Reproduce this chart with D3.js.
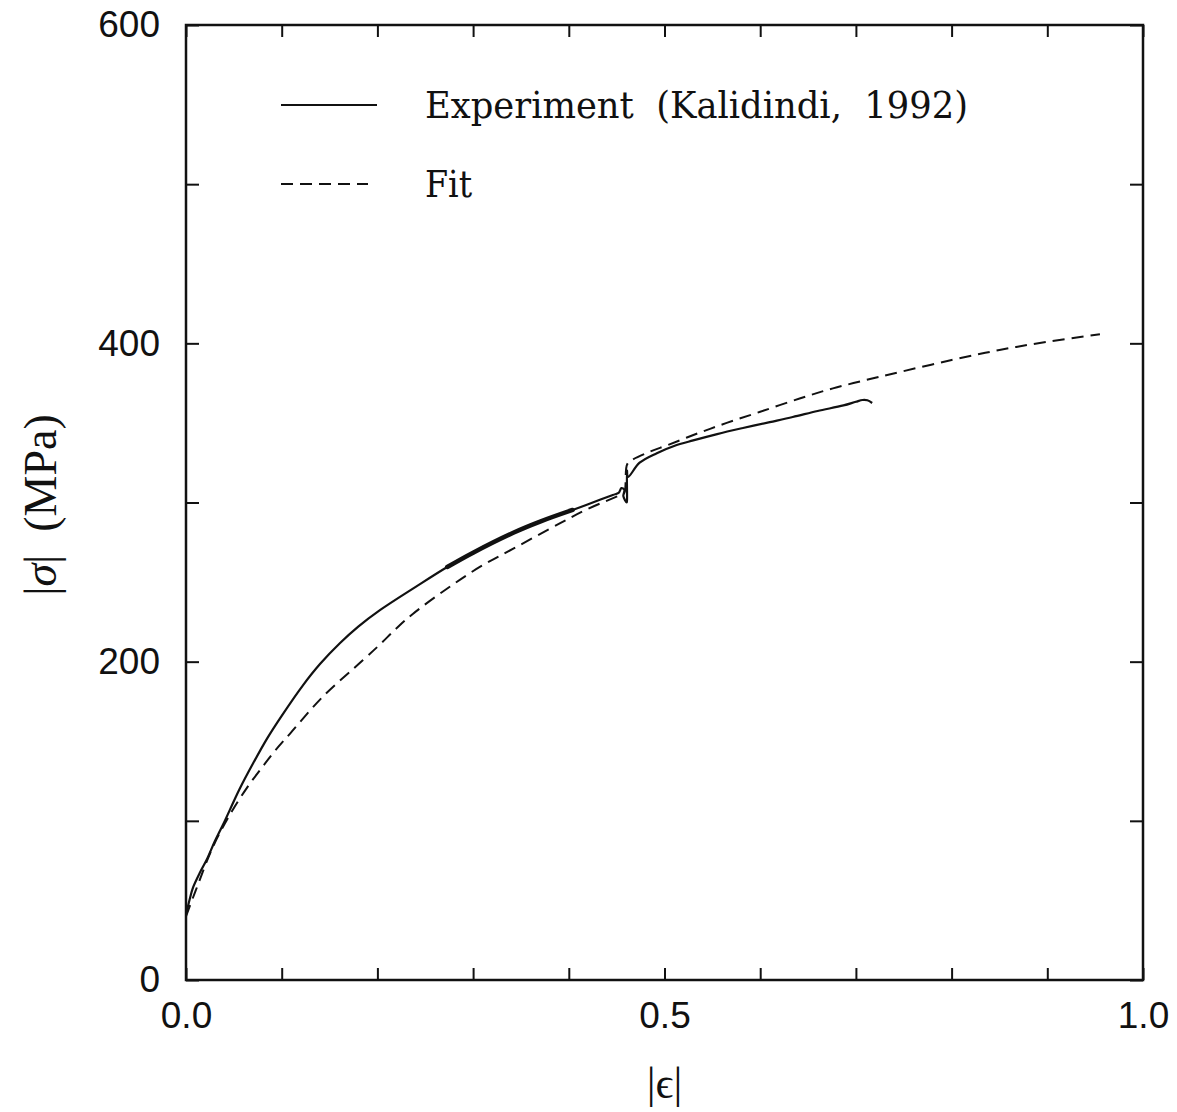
<!DOCTYPE html>
<html>
<head>
<meta charset="utf-8">
<script src="https://cdn.jsdelivr.net/npm/d3@7"></script>
<style>
  body { margin: 0; background: #fff; }
  svg { display: block; }
  .tick line { stroke: #111; stroke-width: 2; }
  .tick text { font-family: "Liberation Sans", Arial, sans-serif; font-size: 37px; fill: #111; }
</style>
</head>
<body>
<div id="vis"></div>
<script>
// stress-strain data: [|eps|, |sigma| (MPa)]
var experiment = [
  [0, 41], [0.004, 51], [0.0073, 58], [0.015, 68], [0.022, 76], [0.03, 87],
  [0.039, 98], [0.056, 120], [0.07, 136], [0.085, 152], [0.1, 166],
  [0.122, 185], [0.14, 198.5], [0.161, 211.7], [0.18, 222], [0.203, 232.5],
  [0.24, 247], [0.273, 259.5], [0.3, 268.5], [0.342, 281], [0.37, 288],
  [0.404, 295.3], [0.425, 300], [0.446, 304.7], [0.452, 306], [0.455, 309],
  [0.458, 308], [0.457, 304], [0.4605, 300], [0.4608, 301], [0.4608, 320],
  [0.4618, 316], [0.474, 325], [0.492, 331], [0.51, 335.5], [0.53, 339],
  [0.555, 343], [0.582, 346.8], [0.61, 350.5], [0.634, 353.7], [0.66, 357.5],
  [0.687, 361], [0.7, 363.3], [0.707, 364.4], [0.712, 364.2], [0.717, 362.5]
];

var fit = [
  [0, 40], [0.01, 56], [0.028, 83.5], [0.046, 104], [0.064, 121], [0.08, 134],
  [0.093, 144], [0.109, 155], [0.143, 178], [0.185, 201], [0.203, 211],
  [0.22, 221], [0.237, 230], [0.273, 246], [0.307, 259.5], [0.342, 271],
  [0.391, 287], [0.42, 296], [0.455, 305], [0.458, 306], [0.461, 324],
  [0.466, 326.7], [0.485, 332], [0.503, 336], [0.535, 343.5], [0.565, 350],
  [0.6, 357], [0.642, 365.5], [0.676, 371.7], [0.711, 377], [0.746, 382],
  [0.8, 389.5], [0.85, 395.8], [0.9, 401], [0.955, 405.7]
];

// strain range where the measured curve is drawn thicker (noisy signal)
var noisyRange = [0.265, 0.41];

var xTicks = [0, 0.1, 0.2, 0.3, 0.4, 0.5, 0.6, 0.7, 0.8, 0.9, 1.0];
var xLabels = [0, 0.5, 1.0];
var yTicks = [0, 100, 200, 300, 400, 500, 600];
var yLabels = [0, 200, 400, 600];

var legendNames = ["Experiment\u00a0 (Kalidindi,\u00a0 1992)", "Fit"];

var width = 1177,
	height = 1112,
	margin = {top: 25, right: 34, bottom: 132, left: 186};

var innerW = width - margin.left - margin.right,
	innerH = height - margin.top - margin.bottom;

var x = d3.scaleLinear().domain([0, 1]).range([0, innerW]);
var y = d3.scaleLinear().domain([0, 600]).range([innerH, 0]);

var svg = d3.select('#vis')
	.append('svg')
	.attr('width', width)
	.attr('height', height);

var g = svg.append('g')
	.attr('transform', 'translate(' + margin.left + ',' + margin.top + ')');

// axes, ticks pointing inward on all four sides
g.append('g')
	.attr('transform', 'translate(0,' + innerH + ')')
	.call(d3.axisBottom(x).tickValues(xTicks).tickSize(-12).tickPadding(22)
		.tickFormat(function(d) { return xLabels.indexOf(d) >= 0 ? d3.format('.1f')(d) : ''; }))
	.call(function(a) { a.select('.domain').remove(); });

g.append('g')
	.call(d3.axisTop(x).tickValues(xTicks).tickSize(-12).tickFormat(''))
	.call(function(a) { a.select('.domain').remove(); });

g.append('g')
	.call(d3.axisLeft(y).tickValues(yTicks).tickSize(-13).tickPadding(26)
		.tickFormat(function(d) { return yLabels.indexOf(d) >= 0 ? d : ''; }))
	.call(function(a) { a.select('.domain').remove(); });

g.append('g')
	.attr('transform', 'translate(' + innerW + ',0)')
	.call(d3.axisRight(y).tickValues(yTicks).tickSize(-13).tickFormat(''))
	.call(function(a) { a.select('.domain').remove(); });

g.append('rect')
	.attr('width', innerW)
	.attr('height', innerH)
	.attr('fill', 'none')
	.attr('stroke', '#111')
	.attr('stroke-width', 2.5);

var line = d3.line()
	.x(function(d) { return x(d[0]); })
	.y(function(d) { return y(d[1]); })
	.curve(d3.curveCatmullRom.alpha(0.5));

g.append('path')
	.datum(fit)
	.attr('d', line)
	.attr('fill', 'none')
	.attr('stroke', '#111')
	.attr('stroke-width', 2)
	.attr('stroke-dasharray', '12,7');

g.append('path')
	.datum(experiment)
	.attr('d', line)
	.attr('fill', 'none')
	.attr('stroke', '#111')
	.attr('stroke-width', 2.2)
	.attr('stroke-linejoin', 'round');

g.append('path')
	.datum(experiment.filter(function(d) { return d[0] >= noisyRange[0] && d[0] <= noisyRange[1]; }))
	.attr('d', line)
	.attr('fill', 'none')
	.attr('stroke', '#111')
	.attr('stroke-width', 4.5)
	.attr('stroke-linecap', 'round');

// legend
var legend = svg.append('g').attr('transform', 'translate(281,105)');
legendNames.forEach(function(name, i) {
	var row = legend.append('g').attr('transform', 'translate(0,' + (i * 79) + ')');
	row.append('line')
		.attr('x1', 0).attr('x2', i === 0 ? 96 : 87)
		.attr('stroke', '#111')
		.attr('stroke-width', 2)
		.attr('stroke-dasharray', i === 0 ? null : '12,7');
	row.append('text')
		.attr('x', 144)
		.attr('y', 13)
		.attr('font-family', '"DejaVu Serif Condensed", "Liberation Serif", serif')
		.attr('font-size', 37)
		.attr('fill', '#111')
		.attr('textLength', i === 0 ? 543 : null)
		.attr('lengthAdjust', 'spacingAndGlyphs')
		.text(name);
});

// axis titles
var yTitle = svg.append('text')
	.attr('transform', 'translate(56,505) rotate(-90)')
	.attr('text-anchor', 'middle')
	.attr('font-family', '"Liberation Serif", serif')
	.attr('font-size', 46)
	.attr('fill', '#111');
yTitle.append('tspan').text('|');
yTitle.append('tspan').attr('font-style', 'italic').text('σ');
yTitle.append('tspan').text('|\u00a0\u00a0(MPa)');

svg.append('text')
	.attr('x', margin.left + x(0.5))
	.attr('y', 1098)
	.attr('text-anchor', 'middle')
	.attr('font-family', '"Liberation Serif", serif')
	.attr('font-size', 44)
	.attr('fill', '#111')
	.text('|ϵ|');
</script>
</body>
</html>
